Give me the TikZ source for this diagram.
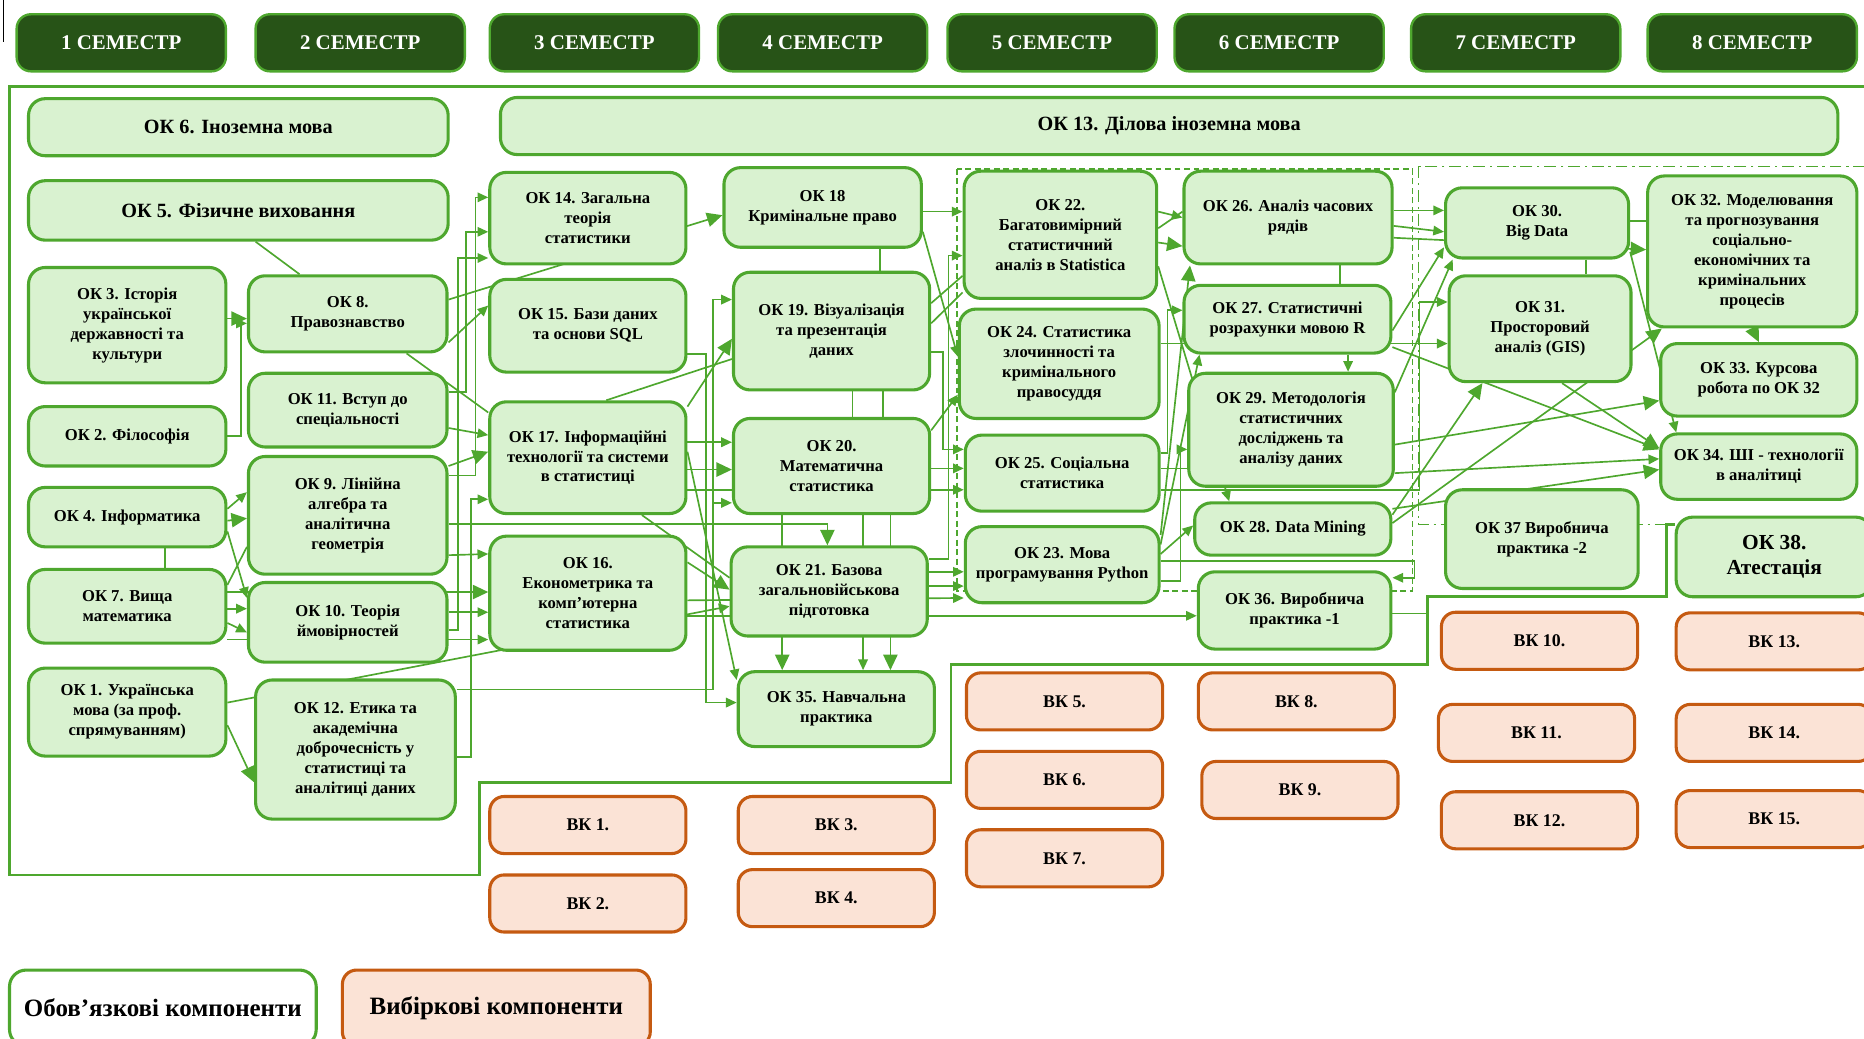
\documentclass[tikz,border=0pt]{standalone}
\usepackage{fontspec}
\setmainfont{Liberation Serif}
\usepackage{xcolor}
\usepackage{tikz}
\usetikzlibrary{arrows.meta, backgrounds}

\definecolor{okline}{HTML}{4EA72E}
\definecolor{okfill}{HTML}{D9F2D0}
\definecolor{semfill}{HTML}{275317}
\definecolor{vkline}{HTML}{C55A11}
\definecolor{vkfill}{HTML}{FBE3D6}

\tikzset{
  bw/.style={minimum width={#1*0.5pt}},
  bh/.style={minimum height={#1*0.5pt}},
  ok/.style={draw=okline, fill=okfill, line width=1.3pt, rounded corners=7pt, align=center, inner sep=1pt, font=\fontsize{7}{8.4}\selectfont\bfseries},
  okbig/.style={ok, font=\fontsize{8.5}{10}\selectfont\bfseries},
  vk/.style={draw=vkline, fill=vkfill, line width=1.3pt, rounded corners=6pt, bw=165, bh=48, font=\fontsize{7.5}{9}\selectfont\bfseries},
  sem/.style={draw=okline, fill=semfill, line width=1pt, rounded corners=6pt, text=white, bw=176, bh=48, font=\fontsize{8.8}{10}\selectfont\bfseries},
  ln/.style={draw=okline, line width=0.7pt},
  arr/.style={ln, -{Triangle[length=4.5pt,width=4pt]}},
  arrb/.style={ln, -{Triangle[length=6.5pt,width=6pt]}},
  outl/.style={draw=okline, line width=1.2pt},
  dsh/.style={draw=okline, line width=0.6pt, dash pattern=on 2.5pt off 1.5pt},
  dshdot/.style={draw=okline, line width=0.6pt, dash pattern=on 5pt off 2pt on 1pt off 2pt}
}

\begin{document}
\begin{tikzpicture}[x=0.5pt, y=-0.5pt]
\useasboundingbox (0,0) rectangle (1568,874);
\clip (0,0) rectangle (1568,874);
\draw[black, line width=0.4pt] (3,0) -- (3,35);

\foreach \n/\x in {1/102,2/303,3/500,4/692,5/885,6/1076,7/1275,8/1474}
  \node[sem] (s\n) at (\x,36) {\n\ СЕМЕСТР};

\node[okbig, bw=353, bh=48] (ok6) at (200.5,107) {ОК 6. Іноземна мова};
\node[okbig, bw=1125, bh=48] (ok13) at (983.5,106) {ОК 13. Ділова іноземна мова};
\node[okbig, bw=353, bh=50] (ok5) at (200.5,177) {ОК 5. Фізичне виховання};
\node[ok, bw=166, bh=97] (ok3) at (107,273.5) {ОК 3. Історія\\української\\державності та\\культури};
\node[ok, bw=167, bh=64] (ok8) at (292.5,264) {ОК 8.\\Правознавство};
\node[ok, bw=166, bh=50] (ok2) at (107,367) {ОК 2. Філософія};
\node[ok, bw=167, bh=62] (ok11) at (292.5,345) {ОК 11. Вступ до\\спеціальності};
\node[ok, bw=166, bh=50] (ok4) at (107,435) {ОК 4. Інформатика};
\node[ok, bw=167, bh=99] (ok9) at (292.5,433.5) {ОК 9. Лінійна\\алгебра та\\аналітична\\геометрія};
\node[ok, bw=166, bh=62] (ok7) at (107,510) {ОК 7. Вища\\математика};
\node[ok, bw=167, bh=67] (ok10) at (292.5,523.5) {ОК 10. Теорія\\ймовірностей};
\node[ok, bw=166, bh=74] (ok1) at (107,599) {ОК 1. Українська\\мова (за проф.\\спрямуванням)};
\node[ok, bw=168, bh=117] (ok12) at (299,630.5) {ОК 12. Етика та\\академічна\\доброчесність у\\статистиці та\\аналітиці даних};

\node[ok, bw=165, bh=77] (ok14) at (494.5,183.5) {ОК 14. Загальна\\теорія\\статистики};
\node[ok, bw=165, bh=78] (ok15) at (494.5,274) {ОК 15. Бази даних\\та основи SQL};
\node[ok, bw=165, bh=94] (ok17) at (494.5,385) {ОК 17. Інформаційні\\технології та системи\\в статистиці};
\node[ok, bw=165, bh=96] (ok16) at (494.5,499) {ОК 16.\\Економетрика та\\комп’ютерна\\статистика};

\node[ok, bw=166, bh=67] (ok18) at (692,174.5) {ОК 18\\Кримінальне право};
\node[ok, bw=165, bh=99] (ok19) at (699.5,278.5) {ОК 19. Візуалізація\\та презентація\\даних};
\node[ok, bw=165, bh=80] (ok20) at (699.5,392) {ОК 20.\\Математична\\статистика};
\node[ok, bw=165, bh=75] (ok21) at (697.5,497.5) {ОК 21. Базова\\загальновійськова\\підготовка};
\node[ok, bw=165, bh=63] (ok35) at (703.5,596.5) {ОК 35. Навчальна\\практика};

\node[ok, bw=162, bh=107] (ok22) at (892,197.5) {ОК 22.\\Багатовимірний\\статистичний\\аналіз в Statistica};
\node[ok, bw=168, bh=92] (ok24) at (891,306) {ОК 24. Статистика\\злочинності та\\кримінального\\правосуддя};
\node[ok, bw=163, bh=64] (ok25) at (893.5,398) {ОК 25. Соціальна\\статистика};
\node[ok, bw=163, bh=64] (ok23) at (893.5,475) {ОК 23. Мова\\програмування Python};

\node[ok, bw=175, bh=78] (ok26) at (1083.5,183) {ОК 26. Аналіз часових\\рядів};
\node[ok, bw=174, bh=57] (ok27) at (1083,268.5) {ОК 27. Статистичні\\розрахунки мовою R};
\node[ok, bw=172, bh=95] (ok29) at (1086,361.5) {ОК 29. Методологія\\статистичних\\досліджень та\\аналізу даних};
\node[ok, bw=165, bh=44] (ok28) at (1087.5,445) {ОК 28. Data Mining};
\node[ok, bw=162, bh=65] (ok36) at (1089,513.5) {ОК 36. Виробнича\\практика -1};

\node[ok, bw=154, bh=59] (ok30) at (1293,187.5) {ОК 30.\\Big Data};
\node[ok, bw=153, bh=89] (ok31) at (1295.5,276.5) {ОК 31.\\Просторовий\\аналіз (GIS)};
\node[ok, bw=162, bh=83] (ok37) at (1297,453.5) {ОК 37 Виробнича\\практика -2};

\node[ok, bw=176, bh=127] (ok32) at (1474,211.5) {ОК 32. Моделювання\\та прогнозування\\соціально-\\економічних та\\кримінальних\\процесів};
\node[ok, bw=165, bh=61] (ok33) at (1479.5,319.5) {ОК 33. Курсова\\робота по ОК 32};
\node[ok, bw=165, bh=55] (ok34) at (1479.5,392.5) {ОК 34. ШІ - технології\\в аналітиці};
\node[ok, bw=165, bh=67, font=\fontsize{9}{10.5}\selectfont\bfseries] (ok38) at (1492.5,468.5) {ОК 38.\\Атестація};

\foreach \n/\x/\y in {1/494.5/694, 2/494.5/760, 3/703.5/694, 4/703.5/755.5, 5/895.5/590, 6/895.5/656, 7/895.5/722, 8/1090.5/590, 9/1093.5/664.5, 10/1295/539, 11/1292.5/616.5, 12/1295/690, 13/1492.5/539.5, 14/1492.5/616.5, 15/1492.5/689}
  \node[vk] (vk\n) at (\x,\y) {ВК \n.};

\node[ok, fill=white, bw=258, bh=64, font=\fontsize{10.5}{12}\selectfont\bfseries] (leg1) at (137,848) {Обов’язкові компоненти};
\node[vk, bw=259, bh=64, font=\fontsize{10.5}{12}\selectfont\bfseries] (leg2) at (417.5,848) {Вибіркові компоненти};

\coordinate (framec) at (1201,516);

\begin{scope}[on background layer]
\draw[outl] (1600,73) -- (8,73) -- (8,736) -- (403,736) -- (403,658) -- (800,658) -- (800,559) -- (1201,559) -- (1201,502) -- (1402,502) -- (1402,441) -- (ok38.west |- 0,441);
\draw[dsh] (805,142) rectangle (1188,497);
\draw[dshdot] (1193,140) rectangle (1600,441);

\draw[arrb] (ok3.east |- 0,268) -- (ok8.west |- 0,268);
\draw[arr] (ok2.east) -| (203,272) -- (ok8.west |- 0,272);
\draw[ln] (ok5.south -| 215,0) -- (ok8.north -| 252,0);
\draw[arr] (ok4.east |- 0,428) -- (ok9.west |- 0,414);
\draw[arrb] (ok4.east |- 0,438) -- (ok9.west |- 0,436);
\draw[arr] (ok4.east |- 0,447) -- (ok10.west |- 0,503);
\draw[arrb] (ok4.south -| 139,0) |- (ok16.west |- 0,498);
\draw[ln] (ok7.east |- 0,492) -- (ok9.west |- 0,460);
\draw[arr] (ok7.east |- 0,512) -- (ok10.west |- 0,512);
\draw[arr] (ok7.east |- 0,524) -- (ok10.west |- 0,532);
\draw[arr] (ok7.east |- 0,538) -- (ok16.west |- 0,538);
\draw[arr] (ok1.east |- 0,591) -- (ok21.west |- 0,510);
\draw[arrb] (ok1.east |- 0,610) -- (ok12.west |- 0,658);

\draw[arrb] (ok8.east |- 0,252) -- (ok18.west |- 0,181);
\draw[arr] (ok8.east |- 0,288) -- (ok15.west |- 0,257);
\draw[ln] (ok8.south -| 342,0) -- (ok17.west |- 0,347);
\draw[arr] (ok9.east |- 0,400) -| (400,166) -- (ok14.west |- 0,166);
\draw[arr] (ok11.east |- 0,330) -| (392,195) -- (ok14.west |- 0,195);
\draw[arr] (ok10.east |- 0,530) -| (385,217) -- (ok14.west |- 0,217);
\draw[arr] (ok11.east |- 0,360) -- (ok17.west |- 0,366);
\draw[arrb] (ok9.east |- 0,392) -- (ok17.west |- 0,380);
\draw[arr] (ok9.east |- 0,467) -- (ok16.west |- 0,466);
\draw[arr] (ok10.east |- 0,515) -- (ok16.west |- 0,515);
\draw[arr] (ok12.east |- 0,637) -| (396,420) -- (ok17.west |- 0,420);
\draw[arrb] (ok9.east |- 0,441) -| (ok21.north -| 696,0);

\draw[arr] (ok12.east |- 0,580) -| (600,252) -- (ok19.west |- 0,252);
\draw[arr] (ok12.east |- 0,580) -| (600,423) -- (ok20.west |- 0,423);
\draw[arr] (ok15.east |- 0,298) -| (594,591) -- (ok35.west |- 0,591);
\draw[arrb] (ok17.east |- 0,342) -- (ok19.west |- 0,285);
\draw[ln] (ok17.north -| 510,0) -- (ok19.west |- 0,302);
\draw[arr] (ok17.east |- 0,372) -- (ok20.west |- 0,372);
\draw[arrb] (ok17.east |- 0,395) -- (ok20.west |- 0,395);
\draw[arr] (ok17.east |- 0,412) -- (ok25.west |- 0,412);
\draw[arr] (ok17.east |- 0,380) -- (ok35.west |- 0,572);
\draw[ln] (ok17.south -| 540,0) -- (ok21.west |- 0,486);
\draw[arrb] (ok16.east |- 0,473) -- (ok21.west |- 0,496);
\draw[arr] (ok16.east |- 0,505) -- (ok23.west |- 0,503);
\draw[arr] (ok16.east |- 0,518) -- (ok36.west |- 0,518);

\draw[arr] (ok18.east |- 0,178) -- (ok22.west |- 0,178);
\draw[arr] (ok18.east |- 0,195) -- (ok24.west |- 0,300);
\draw[ln] (ok18.south -| 740,0) -- (ok19.north -| 740,0);
\draw[ln] (ok19.east |- 0,255) -- (ok22.west |- 0,232);
\draw[ln] (ok19.east |- 0,272) -- (ok22.west |- 0,246);
\draw[arr] (ok19.east |- 0,296) -| (793,378) -- (ok25.west |- 0,378);
\draw[ln] (ok19.south -| 717,0) -- (ok20.north -| 717,0);
\draw[ln] (ok19.south -| 743,0) -- (ok20.north -| 743,0);
\draw[arr] (ok20.east |- 0,362) -- (ok24.west |- 0,332);
\draw[arr] (ok20.east |- 0,394) -- (ok25.west |- 0,394);
\draw[arrb] (ok20.south -| 658,0) -- (ok35.north -| 658,0);
\draw[arr] (ok20.south -| 726,0) -- (ok35.north -| 726,0);
\draw[arrb] (ok20.south -| 749,0) -- (ok35.north -| 749,0);
\draw[arr] (ok21.east |- 0,470) -| (798,215) -- (ok22.west |- 0,215);
\draw[arr] (ok21.east |- 0,481) -- (ok23.west |- 0,481);
\draw[arr] (ok21.east |- 0,493) -- (ok23.west |- 0,493);

\draw[arr] (ok22.east |- 0,178) -- (ok26.west |- 0,183);
\draw[ln] (ok22.east |- 0,192) -- (ok26.west |- 0,178);
\draw[arrb] (ok22.east |- 0,204) -- (ok26.west |- 0,207);
\draw[arr] (ok22.east |- 0,224) -- (ok28.north -| 1034,0);
\draw[arr] (ok23.east |- 0,466) -- (ok28.west |- 0,442);
\draw[arr] (ok23.east |- 0,489) -| (993,378) -- (ok29.west |- 0,378);
\draw[arr] (ok23.east |- 0,458) -- (ok27.south -| 1009,0);
\draw[arrb] (ok23.east |- 0,450) -- (ok26.south -| 1001,0);
\draw[arr] (ok25.east |- 0,381) -| (982,261) -- (ok27.west |- 0,261);
\draw[ln] (ok25.east |- 0,394) -- (ok29.west |- 0,394);
\draw[ln] (ok26.south -| 1127,0) -- (ok27.north -| 1127,0);
\draw[arr] (ok27.south -| 1134,0) -- (ok29.north -| 1134,0);

\draw[arr] (ok25.east |- 0,412) -| (1194,254) -- (ok31.west |- 0,254);
\draw[arr] (ok23.east |- 0,472) -- (1190,472) |- (ok36.east |- 0,486);
\draw[arr] (ok24.east |- 0,289) -- (ok31.west |- 0,289);
\draw[arr] (ok26.east |- 0,177) -- (ok30.west |- 0,177);
\draw[arr] (ok26.east |- 0,190) -- (ok30.west |- 0,195);
\draw[arrb] (ok26.east |- 0,200) -- (ok32.west |- 0,210);
\draw[arr] (ok27.east |- 0,278) -- (ok30.west |- 0,208);
\draw[arrb] (ok27.east |- 0,292) -- (ok34.west |- 0,378);
\draw[arrb] (ok28.east |- 0,433) -- (ok31.south -| 1247,0);
\draw[arrb] (ok28.east |- 0,440) -- (ok32.south -| 1398,0);
\draw[arrb] (ok28.east |- 0,428) -- (ok34.west |- 0,395);
\draw[arr] (ok29.east |- 0,330) -- (ok30.south -| 1222,0);
\draw[arrb] (ok29.east |- 0,374) -- (ok33.west |- 0,337);
\draw[arr] (ok29.east |- 0,398) -- (ok34.west |- 0,386);
\draw[ln] (ok30.south -| 1334,0) -- (ok31.north -| 1334,0);
\draw[ln] (ok30.east |- 0,186) -- (ok32.west |- 0,186);
\draw[arr] (ok30.east |- 0,212) -- (ok34.north -| 1410,0);
\draw[arrb] (ok31.south -| 1314,0) -- (ok34.west |- 0,377);
\draw[arrb] (ok32.south) -- (ok33.north);
\draw[ln] (ok36.east |- framec) -- (framec);
\end{scope}
\end{tikzpicture}
\end{document}
